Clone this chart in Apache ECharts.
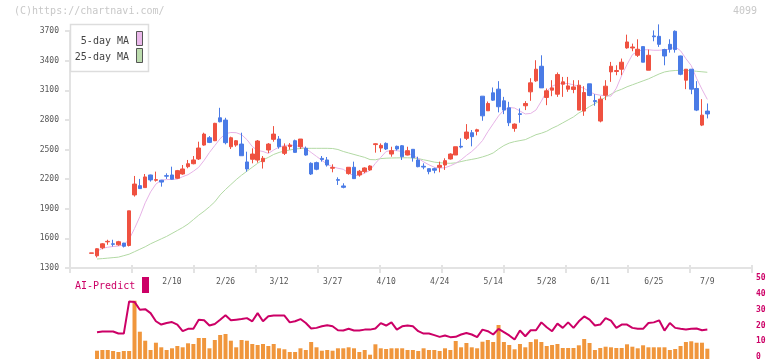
<!DOCTYPE html>
<html>
<head>
<meta charset="utf-8">
<script src="https://cdn.jsdelivr.net/npm/echarts@6/dist/echarts.min.js"></script>
<style>
  html, body { margin: 0; padding: 0; background: #fff; }
  #chart { width: 772px; height: 361px; }
</style>
</head>
<body>
<div id="chart"></div>
<script>
// 日足 [open, close, low, high]
const candleData = [
  [1449, 1453, 1449, 1453], [1424, 1495, 1407, 1500], [1505, 1545, 1490, 1552], [1565, 1570, 1535, 1586],
  [1545, 1540, 1518, 1586], [1535, 1566, 1525, 1575], [1552, 1520, 1508, 1555], [1528, 1879, 1518, 1879],
  [2040, 2150, 2023, 2232], [2134, 2104, 2100, 2202], [2114, 2222, 2114, 2252], [2242, 2192, 2175, 2245],
  [2188, 2195, 2175, 2276], [2189, 2170, 2124, 2192], [2235, 2230, 2202, 2259], [2242, 2199, 2195, 2326],
  [2209, 2286, 2202, 2293], [2252, 2303, 2245, 2343], [2326, 2356, 2310, 2394], [2356, 2394, 2350, 2434],
  [2404, 2515, 2394, 2579], [2545, 2656, 2538, 2670], [2619, 2572, 2565, 2636], [2589, 2765, 2585, 2770],
  [2821, 2781, 2775, 2922], [2798, 2569, 2552, 2821], [2528, 2619, 2505, 2630], [2545, 2589, 2528, 2596],
  [2555, 2437, 2435, 2670], [2374, 2303, 2276, 2478], [2401, 2454, 2360, 2512], [2393, 2586, 2367, 2596],
  [2377, 2411, 2307, 2434], [2495, 2555, 2464, 2565], [2603, 2656, 2579, 2737], [2606, 2528, 2508, 2636],
  [2461, 2528, 2444, 2562], [2530, 2545, 2498, 2565], [2589, 2471, 2468, 2600], [2528, 2606, 2505, 2606],
  [2512, 2444, 2437, 2530], [2360, 2252, 2242, 2370], [2367, 2300, 2290, 2377], [2410, 2398, 2377, 2434],
  [2394, 2343, 2327, 2424], [2310, 2318, 2269, 2350], [2195, 2188, 2141, 2218], [2131, 2117, 2107, 2158],
  [2256, 2320, 2245, 2320], [2320, 2205, 2202, 2377], [2242, 2280, 2225, 2293], [2276, 2313, 2260, 2320],
  [2293, 2333, 2285, 2340], [2550, 2558, 2468, 2562], [2515, 2542, 2474, 2562], [2562, 2505, 2495, 2572],
  [2454, 2488, 2427, 2528], [2532, 2505, 2490, 2540], [2538, 2427, 2394, 2545], [2444, 2488, 2440, 2528],
  [2502, 2417, 2377, 2505], [2394, 2326, 2320, 2427], [2330, 2322, 2300, 2360], [2306, 2276, 2249, 2306],
  [2306, 2290, 2259, 2316], [2320, 2340, 2269, 2377], [2343, 2387, 2293, 2411], [2404, 2454, 2398, 2461],
  [2444, 2528, 2444, 2528], [2532, 2525, 2512, 2613], [2613, 2677, 2596, 2757], [2670, 2630, 2532, 2697],
  [2684, 2700, 2643, 2710], [3040, 2841, 2791, 3040], [2892, 2966, 2892, 2986], [3074, 3000, 2993, 3128],
  [3111, 2933, 2876, 3192], [2993, 2899, 2858, 3033], [2922, 2771, 2737, 2983], [2714, 2757, 2680, 2764],
  [2862, 2855, 2771, 2916], [2943, 2966, 2899, 2990], [3084, 3175, 2993, 3222], [3195, 3313, 3185, 3404],
  [3343, 3124, 3124, 3454], [3027, 3094, 2949, 3118], [3101, 3124, 3040, 3202], [3060, 3259, 3033, 3280],
  [3161, 3185, 3033, 3235], [3111, 3144, 3084, 3235], [3108, 3134, 3070, 3202], [2899, 3151, 2899, 3202],
  [2889, 3077, 2841, 3141], [3165, 3047, 3040, 3165], [2995, 2985, 2943, 3060], [2788, 3010, 2775, 3040],
  [3050, 3141, 3000, 3202], [3286, 3343, 3185, 3387], [3290, 3300, 3252, 3353], [3313, 3384, 3252, 3421],
  [3529, 3589, 3520, 3663], [3528, 3538, 3495, 3572], [3454, 3515, 3437, 3616], [3542, 3384, 3384, 3542],
  [3303, 3454, 3303, 3512], [3650, 3642, 3596, 3706], [3646, 3565, 3539, 3767], [3512, 3447, 3353, 3520],
  [3565, 3515, 3481, 3616], [3697, 3512, 3481, 3706], [3447, 3262, 3252, 3450], [3202, 3313, 3111, 3313],
  [3313, 3111, 3060, 3313], [3118, 2899, 2889, 3192], [2747, 2848, 2737, 3010], [2889, 2860, 2815, 2966]
];

// 5日移動平均
const ma5 = ['-',
  1468, 1500, 1510, 1518, 1522, 1535, 1590, 1700, 1820, 1960,
  2070, 2150, 2190, 2195, 2197, 2200, 2225, 2245, 2280, 2320,
  2390, 2470, 2540, 2610, 2660, 2672, 2670, 2650, 2600, 2530,
  2490, 2480, 2460, 2495, 2525, 2540, 2545, 2540, 2530, 2510,
  2470, 2430, 2390, 2350, 2325, 2310, 2300, 2260, 2235, 2240,
  2260, 2290, 2360, 2420, 2480, 2490, 2488, 2480, 2465, 2440,
  2410, 2375, 2345, 2320, 2312, 2315, 2335, 2360, 2395, 2440,
  2480, 2530, 2590, 2680, 2760, 2840, 2900, 2925, 2920, 2890,
  2860, 2865, 2900, 2990, 3090, 3140, 3165, 3170, 3168, 3155,
  3140, 3118, 3085, 3060, 3050, 3045, 3040, 3120, 3250, 3360,
  3460, 3495, 3510, 3510, 3505, 3505, 3510, 3515, 3540, 3500,
  3420, 3350, 3220, 3110, 3007
];

// 25日移動平均
const ma25 = ['-',
  1391, 1395, 1400, 1405, 1410, 1425, 1440, 1465, 1490, 1515,
  1545, 1570, 1595, 1620, 1650, 1680, 1710, 1745, 1790, 1835,
  1875, 1920, 1970, 2040, 2095, 2145, 2195, 2240, 2280, 2320,
  2360, 2395, 2420, 2450, 2470, 2485, 2495, 2505, 2510, 2512,
  2512, 2512, 2512, 2512, 2510, 2500, 2480, 2465, 2450, 2435,
  2420, 2398, 2396, 2408, 2412, 2414, 2415, 2416, 2416, 2414,
  2408, 2396, 2385, 2372, 2366, 2362, 2360, 2365, 2378, 2390,
  2400, 2410, 2425, 2442, 2465, 2505, 2540, 2565, 2580, 2590,
  2600, 2625, 2650, 2665, 2685, 2715, 2740, 2770, 2800, 2830,
  2870, 2900, 2935, 2965, 2995, 3030, 3060, 3090, 3110, 3135,
  3155, 3175, 3195, 3215, 3240, 3265, 3285, 3295, 3300, 3302,
  3302, 3298, 3292, 3287, 3282
];

// AI-Predict
const aiPredict = ['-',
  15.7, 16.2, 16.2, 16.2, 14.9, 14.9, 35.3, 35.0, 30.0, 30.4,
  27.9, 22.7, 20.6, 21.6, 22.2, 20.6, 16.4, 17.9, 17.9, 23.7,
  23.3, 20.0, 21.0, 23.7, 26.5, 23.3, 23.7, 24.1, 24.7, 22.7,
  27.9, 22.7, 25.9, 26.3, 26.3, 26.3, 22.0, 22.7, 24.1, 21.6,
  18.1, 18.5, 19.5, 20.2, 19.5, 17.0, 16.8, 17.9, 16.8, 16.8,
  17.4, 17.4, 18.1, 21.5, 20.0, 22.0, 17.4, 19.5, 20.0, 19.5,
  16.4, 14.9, 14.9, 13.9, 12.8, 13.7, 12.6, 12.8, 14.3, 15.3,
  14.3, 12.6, 17.4, 16.4, 14.3, 17.9, 15.8, 13.7, 11.1, 16.8,
  13.2, 17.0, 17.0, 22.0, 18.9, 16.4, 21.2, 18.5, 22.0, 18.5,
  22.7, 25.8, 23.7, 20.0, 20.6, 24.7, 23.1, 18.5, 20.6, 20.6,
  18.5, 17.9, 17.9, 21.6, 22.0, 23.3, 16.8, 21.6, 18.5, 17.9,
  17.4, 17.9, 18.1, 17.0, 17.4
];

// 出来高（千株）
const volume = ['-',
  83, 90, 90, 80, 70, 80, 80, 583, 273, 183,
  90, 163, 117, 90, 107, 130, 117, 157, 150, 210,
  210, 107, 190, 240, 250, 183, 117, 190, 183, 150,
  140, 150, 130, 150, 107, 97, 70, 70, 107, 90,
  170, 117, 83, 90, 83, 107, 107, 117, 107, 70,
  90, 43, 147, 107, 100, 107, 107, 107, 90, 90,
  80, 107, 90, 90, 80, 107, 90, 180, 117, 160,
  117, 107, 173, 190, 170, 340, 170, 140, 97, 150,
  117, 170, 197, 170, 130, 140, 150, 110, 110, 110,
  137, 200, 160, 90, 110, 123, 117, 110, 110, 147,
  123, 107, 137, 117, 117, 117, 117, 90, 100, 130,
  170, 177, 163, 163, 103
];

// 日付ラベル
const dateLabels = ['2/10', '2/26', '3/12', '3/27', '4/10', '4/24', '5/14', '5/28', '6/11', '6/25', '7/9'];
const dateLabelIndex = [15, 25, 35, 45, 55, 65, 75, 85, 95, 105, 115];

const categories = candleData.map((d, i) => String(i));

const RED = '#ef5140';
const BLUE = '#4a7be6';
const MONO = 'DejaVu Sans Mono';
const AXIS_GREY = '#e3e3e3';

const chart = echarts.init(document.getElementById('chart'));

// 描画領域（ローソク足と同じ位置）
const plotLeft = 89;
const plotRight = 62;

chart.setOption({
  animation: false,
  grid: [
    { left: 70, right: 20, top: 31, bottom: 93 },
    { left: plotLeft, right: plotRight, top: 31, bottom: 93 },
    { left: plotLeft, right: plotRight, top: 278.3, bottom: 3.3 },
    { left: plotLeft, right: plotRight, top: 279, bottom: 2 }
  ],
  xAxis: [
    {
      gridIndex: 0, type: 'value', min: 0, max: 11, interval: 1, position: 'bottom',
      axisLine: { show: true, lineStyle: { color: AXIS_GREY, width: 2 } },
      axisTick: { show: true, length: 5, lineStyle: { color: AXIS_GREY, width: 2 } },
      axisLabel: { show: false },
      splitLine: { show: false }
    },
    {
      gridIndex: 1, type: 'category', data: categories, boundaryGap: true,
      axisLine: { show: false },
      axisTick: { show: false },
      axisLabel: {
        interval: (idx) => dateLabelIndex.includes(idx),
        formatter: (v) => dateLabels[dateLabelIndex.indexOf(+v)] || '',
        fontFamily: MONO, fontSize: 8, color: '#555', margin: 10
      }
    },
    { gridIndex: 2, type: 'category', data: categories, show: false },
    { gridIndex: 3, type: 'category', data: categories, show: false },
    {
      gridIndex: 0, type: 'value', min: 0, max: 11, interval: 1, position: 'bottom',
      axisLine: { show: false },
      axisTick: { show: true, inside: true, length: 3, lineStyle: { color: AXIS_GREY, width: 2 } },
      axisLabel: { show: false },
      splitLine: { show: false }
    }
  ],
  yAxis: [
    {
      gridIndex: 0, type: 'value', min: 1300, max: 3700, interval: 300,
      axisLine: { show: true, lineStyle: { color: AXIS_GREY, width: 2 } },
      axisTick: { show: true, length: 5, lineStyle: { color: AXIS_GREY, width: 2 } },
      axisLabel: { fontFamily: MONO, fontSize: 8, color: '#555', margin: 11, formatter: (v) => String(v) },
      splitLine: { show: false }
    },
    { gridIndex: 1, type: 'value', min: 1300, max: 3700, show: false },
    {
      gridIndex: 2, type: 'value', min: 0, max: 50, interval: 10,
      position: 'right', offset: 42,
      axisLine: { show: false },
      axisTick: { show: false },
      axisLabel: { fontFamily: MONO, fontSize: 8, fontWeight: 'bold', color: '#cc0066', margin: 4 },
      splitLine: { show: false }
    },
    { gridIndex: 3, type: 'value', min: 0, max: 800, show: false }
  ],
  series: [
    {
      name: '25-day MA', type: 'line', xAxisIndex: 1, yAxisIndex: 1,
      data: ma25, symbol: 'none', z: 2,
      lineStyle: { color: '#b2d9a4', width: 1 }
    },
    {
      name: '5-day MA', type: 'line', xAxisIndex: 1, yAxisIndex: 1,
      data: ma5, symbol: 'none', z: 2,
      lineStyle: { color: '#e6b2e6', width: 1 }
    },
    {
      name: 'price', type: 'candlestick', xAxisIndex: 1, yAxisIndex: 1,
      data: candleData, barWidth: 4, clip: false, z: 3,
      itemStyle: {
        color: RED, color0: BLUE,
        borderColor: RED, borderColor0: BLUE, borderWidth: 1
      }
    },
    {
      name: 'volume', type: 'bar', xAxisIndex: 3, yAxisIndex: 3,
      data: volume, barWidth: 4, z: 2,
      itemStyle: { color: '#f0963c' }
    },
    {
      name: 'AI-Predict', type: 'line', xAxisIndex: 2, yAxisIndex: 2,
      data: aiPredict, symbol: 'none', z: 4,
      lineStyle: { color: '#cc0066', width: 2 }
    }
  ],
  graphic: [
    {
      type: 'text', left: 14, top: 6,
      style: { text: '(C)https://chartnavi.com/', font: '10px "DejaVu Sans Mono"', fill: '#c8c8c8' }
    },
    {
      type: 'text', right: 15, top: 6,
      style: { text: '4099', font: '10px "DejaVu Sans Mono"', fill: '#c8c8c8' }
    },
    {
      type: 'rect', shape: { x: 70.5, y: 24.5, width: 78, height: 47 },
      style: { fill: '#fff', stroke: '#dddddd', lineWidth: 1.5 }, z: 10
    },
    {
      type: 'text', x: 129, y: 41, z: 11,
      style: { text: '5-day MA', font: '10px "DejaVu Sans Mono"', fill: '#444', align: 'right', verticalAlign: 'middle' }
    },
    {
      type: 'text', x: 129, y: 57, z: 11,
      style: { text: '25-day MA', font: '10px "DejaVu Sans Mono"', fill: '#444', align: 'right', verticalAlign: 'middle' }
    },
    {
      type: 'rect', shape: { x: 136.5, y: 31.5, width: 6, height: 14 }, z: 11,
      style: { fill: '#eab8ea', stroke: '#555', lineWidth: 1 }
    },
    {
      type: 'rect', shape: { x: 136.5, y: 48.5, width: 6, height: 14 }, z: 11,
      style: { fill: '#bcdcae', stroke: '#555', lineWidth: 1 }
    },
    {
      type: 'text', x: 75, y: 286,
      style: { text: 'AI-Predict', font: '10px "DejaVu Sans Mono"', fill: '#cc0066', verticalAlign: 'middle' }
    },
    {
      type: 'rect', shape: { x: 142, y: 277, width: 7, height: 16 },
      style: { fill: '#cc0066' }
    }
  ]
});
</script>
</body>
</html>
